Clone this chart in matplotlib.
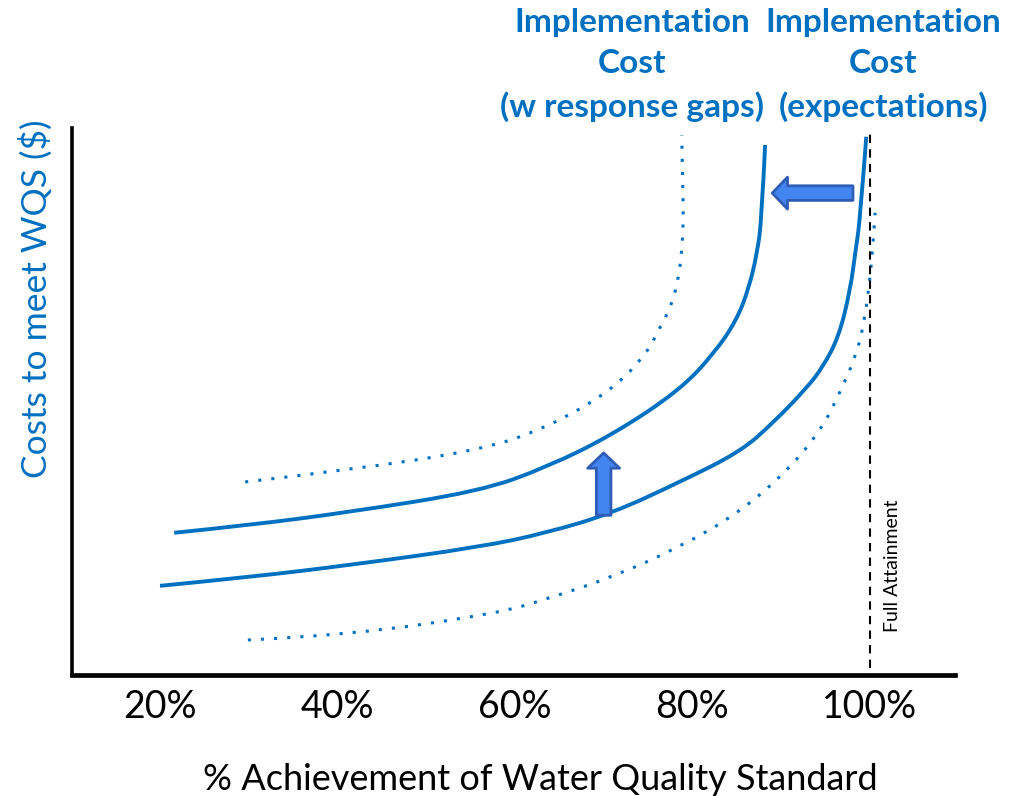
import matplotlib
matplotlib.use("Agg")
import matplotlib.pyplot as plt
from matplotlib.path import Path
from matplotlib.patches import PathPatch

plt.rcParams['font.family'] = ['Lato', 'DejaVu Sans']

BLUE = '#0070C0'

# x = % achievement, y = relative cost (0-100)
gaps_x = [21.6, 30.1, 41.4, 56.1, 63.6, 71.0, 78.6, 82.5, 85.0, 86.4, 87.3, 87.8, 88.2]
gaps_y = [26.0, 27.4, 29.8, 33.6, 38.0, 43.9, 52.1, 58.9, 64.9, 70.9, 77.2, 83.2, 96.9]

expect_x = [20.0, 30.1, 41.4, 56.1, 63.6, 71.0, 78.6, 85.4, 89.1, 92.9, 94.7, 96.5, 97.8, 98.4, 98.9, 99.6]
expect_y = [16.3, 17.9, 20.1, 23.4, 26.0, 29.6, 35.3, 40.8, 46.1, 52.5, 56.3, 61.8, 70.4, 77.7, 83.2, 98.4]

upper_x = [29.6, 41.4, 56.1, 63.6, 71.0, 74.9, 76.2, 77.6, 78.4, 78.8, 79.0, 78.9, 78.8]
upper_y = [35.3, 37.5, 41.1, 45.2, 52.1, 58.9, 63.1, 67.3, 72.2, 77.2, 83.2, 90.5, 98.7]

lower_x = [29.9, 41.4, 58.1, 63.6, 71.0, 78.6, 85.4, 91.0, 94.7, 96.6, 98.5, 99.4, 99.9, 100.3, 100.6]
lower_y = [6.4, 7.3, 11.3, 13.9, 17.9, 23.4, 29.8, 37.8, 45.3, 51.6, 58.5, 64.9, 70.9, 77.2, 84.5]

ticks = [20, 40, 60, 80, 100]
tick_labels = ['20%', '40%', '60%', '80%', '100%']


def smooth_curve(ax, xs, ys, **kw):
    # quadratic beziers between midpoints, so the polyline is drawn as a smooth curve
    pts = list(zip(xs, ys))
    verts = [pts[0]]
    codes = [Path.MOVETO]
    for i in range(1, len(pts) - 1):
        mid = ((pts[i][0] + pts[i + 1][0]) / 2, (pts[i][1] + pts[i + 1][1]) / 2)
        if i == len(pts) - 2:
            mid = pts[-1]
        verts += [pts[i], mid]
        codes += [Path.CURVE3, Path.CURVE3]
    ax.add_patch(PathPatch(Path(verts, codes), fill=False, **kw))


fig = plt.figure(figsize=(10.14, 7.96), dpi=100)
ax = fig.add_axes([72/1014, 121/796, 883/1014, 547/796])
ax.set_xlim(10.08, 109.6)
ax.set_ylim(0, 100)

smooth_curve(ax, gaps_x, gaps_y, edgecolor=BLUE, lw=2.8, capstyle='butt')
smooth_curve(ax, expect_x, expect_y, edgecolor=BLUE, lw=2.8, capstyle='butt')
smooth_curve(ax, upper_x, upper_y, edgecolor=BLUE, lw=2.2, linestyle=(0, (1, 3.3)))
smooth_curve(ax, lower_x, lower_y, edgecolor=BLUE, lw=2.2, linestyle=(0, (1, 3.3)))

# full attainment line
ax.plot([100, 100], [1.3, 99.8], color='black', lw=1.5, linestyle=(0, (4, 3)))
ax.text(102.5, 20, 'Full Attainment', rotation=90, ha='center', va='center', fontsize=14)

# arrows
arrow = dict(arrowstyle='simple,head_length=1.1,head_width=2.3,tail_width=1.05',
             fc='#4385F0', ec='#2F5DB5', lw=2, shrinkA=0, shrinkB=0, mutation_scale=10)
ax.annotate('', xy=(89.0, 88.1), xytext=(98.1, 88.1), arrowprops=arrow)
ax.annotate('', xy=(70.0, 40.6), xytext=(70.0, 29.2), arrowprops=arrow)

ax.spines['top'].set_visible(False)
ax.spines['right'].set_visible(False)
ax.spines['left'].set_linewidth(2.6)
ax.spines['bottom'].set_linewidth(3.4)
ax.set_yticks([])
ax.set_xticks(ticks)
ax.set_xticklabels(tick_labels, fontsize=27)
ax.tick_params(axis='x', length=0, pad=10)

ax.set_xlabel('% Achievement of Water Quality Standard', fontsize=26)
ax.xaxis.set_label_coords(0.53, -0.16)
ax.set_ylabel('Costs to meet WQS ($)', fontsize=25.5, color=BLUE)
ax.yaxis.set_label_coords(-0.022, 0.687)

fig.text(632/1014, 1 - 65/796, 'Implementation\nCost\n(w response gaps)', ha='center', va='center',
         fontsize=24, fontweight='bold', color=BLUE, linespacing=1.5)
fig.text(883/1014, 1 - 65/796, 'Implementation\nCost\n(expectations)', ha='center', va='center',
         fontsize=24, fontweight='bold', color=BLUE, linespacing=1.5)

fig.savefig('out.png', dpi=100)
